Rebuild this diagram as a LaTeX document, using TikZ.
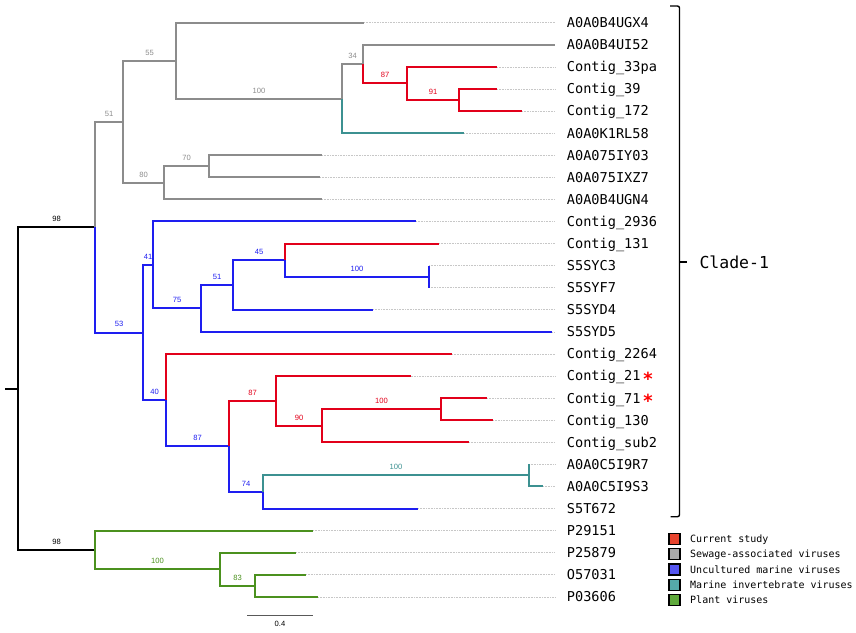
\documentclass[tikz,border=0pt]{standalone}
\usepackage{fontspec}
\setmainfont{Liberation Sans}
\newfontfamily\monof{DejaVu Sans Mono}
\newfontfamily\bsf{Liberation Sans}
\definecolor{cgray}{RGB}{140,140,140}
\definecolor{cred}{RGB}{226,0,26}
\definecolor{cblue}{RGB}{30,30,240}
\definecolor{cteal}{RGB}{60,145,145}
\definecolor{cgreen}{RGB}{75,145,30}
\definecolor{lred}{RGB}{232,68,46}
\definecolor{lgray}{RGB}{170,170,170}
\definecolor{lblue}{RGB}{85,85,240}
\definecolor{lteal}{RGB}{85,170,170}
\definecolor{lgreen}{RGB}{95,170,60}
\newcommand\redast{\hspace{2pt}\textcolor{red}{\raisebox{-4.5pt}{\fontsize{18}{18}\selectfont\bfseries *}}}
\newcommand\br[3]{\draw[br,#1] (#2) |- (#3);}
\newcommand\brl[4]{\draw[br,#1] (#2) |- node[bs,text=#1]{#4} (#3);}
\tikzset{
  br/.style={line width=2pt},
  bs/.style={font=\bsf\fontsize{7.6}{7.6}\selectfont, inner sep=0pt, text height=5.4pt, text depth=0pt, pos=0.75, anchor=center, yshift=8.3pt},
  leader/.style={draw=black!22, line width=0.6pt, dash pattern=on 0.8pt off 0.8pt},
  leaflbl/.style={anchor=west, inner sep=0pt, text height=9.9pt, text depth=0pt, font=\monof\fontsize{13.6}{14}\selectfont},
  legbox/.style={draw=black, line width=1.1pt, minimum width=11pt, minimum height=11pt, inner sep=0pt},
  legtxt/.style={anchor=west, inner sep=0pt, text height=7.3pt, text depth=0pt, font=\monof\fontsize{10}{10}\selectfont},
}
\begin{document}
\begin{tikzpicture}[x=1pt,y=-1pt]
\useasboundingbox (0,0) rectangle (856,632);
% leaves
\foreach \i/\x/\y/\t in {
 0/364/22.7/A0A0B4UGX4, 1/555/44.8/A0A0B4UI52, 2/497/66.9/Contig\_33pa,
 3/497/88.9/Contig\_39, 4/522/111.0/Contig\_172, 5/464/133.1/A0A0K1RL58,
 6/322/155.2/A0A075IY03, 7/320/177.3/A0A075IXZ7, 8/322/199.3/A0A0B4UGN4,
 9/416/221.4/Contig\_2936, 10/439/243.5/Contig\_131, 11/429/265.6/S5SYC3,
 12/429/287.7/S5SYF7, 13/373/309.7/S5SYD4, 14/552/331.8/S5SYD5,
 15/452/353.9/Contig\_2264, 16/410.5/376.0/Contig\_21\redast, 17/487/398.1/Contig\_71\redast,
 18/493/420.1/Contig\_130, 19/469/442.2/Contig\_sub2, 20/529/464.3/A0A0C5I9R7,
 21/543/486.4/A0A0C5I9S3, 22/418/508.5/S5T672, 23/313/530.5/P29151,
 24/296/552.6/P25879, 25/306/574.7/O57031, 26/318/596.8/P03606}{
  \coordinate (t\i) at (\x,\y);
  \node[leaflbl] (L\i) at (566.7,\y) {\t};
}
\foreach \i in {0,2,3,...,26}{
  \draw[leader] (t\i) -- ([xshift=-11.7pt]L\i.west);
}
% internal nodes
\coordinate (n459) at (459,100.0);
\coordinate (n407) at (407,83.45);
\coordinate (n363) at (363,64.1);
\coordinate (n342) at (342,98.6);
\coordinate (n176) at (176,60.65);
\coordinate (n209) at (209,166.25);
\coordinate (n164) at (164,182.8);
\coordinate (n123) at (123,121.7);
\coordinate (n429) at (429,276.65);
\coordinate (n285) at (285,260.1);
\coordinate (n233) at (233,284.9);
\coordinate (n201) at (201,308.35);
\coordinate (n153) at (153,264.9);
\coordinate (n441) at (441,409.1);
\coordinate (n322) at (322,425.65);
\coordinate (n276) at (276,400.8);
\coordinate (n529) at (529,475.35);
\coordinate (n263) at (263,491.9);
\coordinate (n229) at (229,446.35);
\coordinate (n166) at (166,400.1);
\coordinate (n143) at (143,332.5);
\coordinate (n95a) at (95,227.1);
\coordinate (n255) at (255,585.75);
\coordinate (n220) at (220,569.2);
\coordinate (n95b) at (95,549.85);
\coordinate (n18) at (18,388.5);
\coordinate (stub) at (5,388.5);
% branches
\draw[br,black] (stub) -- (n18);
\brl{black}{n18}{n95a}{98}
\brl{black}{n18}{n95b}{98}
\brl{cgray}{n95a}{n123}{51}
\brl{cblue}{n95a}{n143}{53}
\brl{cgray}{n123}{n176}{55}
\brl{cgray}{n123}{n164}{80}
\br{cgray}{n176}{t0}
\brl{cgray}{n176}{n342}{100}
\brl{cgray}{n342}{n363}{34}
\br{cteal}{n342}{t5}
\br{cgray}{n363}{t1}
\brl{cred}{n363}{n407}{87}
\br{cred}{n407}{t2}
\brl{cred}{n407}{n459}{91}
\br{cred}{n459}{t3}
\br{cred}{n459}{t4}
\brl{cgray}{n164}{n209}{70}
\br{cgray}{n164}{t8}
\br{cgray}{n209}{t6}
\br{cgray}{n209}{t7}
\brl{cblue}{n143}{n153}{41}
\brl{cblue}{n143}{n166}{40}
\br{cblue}{n153}{t9}
\brl{cblue}{n153}{n201}{75}
\brl{cblue}{n201}{n233}{51}
\br{cblue}{n201}{t14}
\brl{cblue}{n233}{n285}{45}
\br{cblue}{n233}{t13}
\br{cred}{n285}{t10}
\brl{cblue}{n285}{n429}{100}
\br{cblue}{n429}{t11}
\br{cblue}{n429}{t12}
\br{cred}{n166}{t15}
\brl{cblue}{n166}{n229}{87}
\brl{cred}{n229}{n276}{87}
\brl{cblue}{n229}{n263}{74}
\br{cred}{n276}{t16}
\brl{cred}{n276}{n322}{90}
\brl{cred}{n322}{n441}{100}
\br{cred}{n322}{t19}
\br{cred}{n441}{t17}
\br{cred}{n441}{t18}
\brl{cteal}{n263}{n529}{100}
\br{cblue}{n263}{t22}
\br{cteal}{n529}{t20}
\br{cteal}{n529}{t21}
\br{cgreen}{n95b}{t23}
\brl{cgreen}{n95b}{n220}{100}
\br{cgreen}{n220}{t24}
\brl{cgreen}{n220}{n255}{83}
\br{cgreen}{n255}{t25}
\br{cgreen}{n255}{t26}
% scale bar
\coordinate (sb1) at (247,615);
\coordinate (sb2) at (313,615);
\draw[line width=1pt, black!65] (sb1) -- (sb2);
\node[font=\bsf\fontsize{7.6}{7.6}\selectfont, inner sep=0pt, text height=5.4pt, text depth=0pt] (sbl) at (280,624) {0.4};
% bracket
\draw[line width=1.4pt, rounded corners=2pt] (670,6) -- (679.5,6) -- (679.5,516.7) -- (670.5,516.7);
\coordinate (bm) at (679.5,262);
\coordinate (bt) at (686.5,262);
\draw[line width=1.4pt] (bm) -- (bt);
\node[anchor=west, inner sep=0pt, text height=12pt, text depth=0pt, font=\monof\fontsize{16.5}{17}\selectfont] (clade) at (699.3,262.5) {Clade-1};
% legend
\foreach \j/\c/\y/\t in {1/lred/539/Current study, 2/lgray/554.3/Sewage-associated viruses, 3/lblue/569.5/Uncultured marine viruses, 4/lteal/585/Marine invertebrate viruses, 5/lgreen/600/Plant viruses}{
  \node[legbox, fill=\c] (B\j) at (674.5,\y) {};
  \node[legtxt] (T\j) at (690,\y) {\t};
}
\end{tikzpicture}
\end{document}
